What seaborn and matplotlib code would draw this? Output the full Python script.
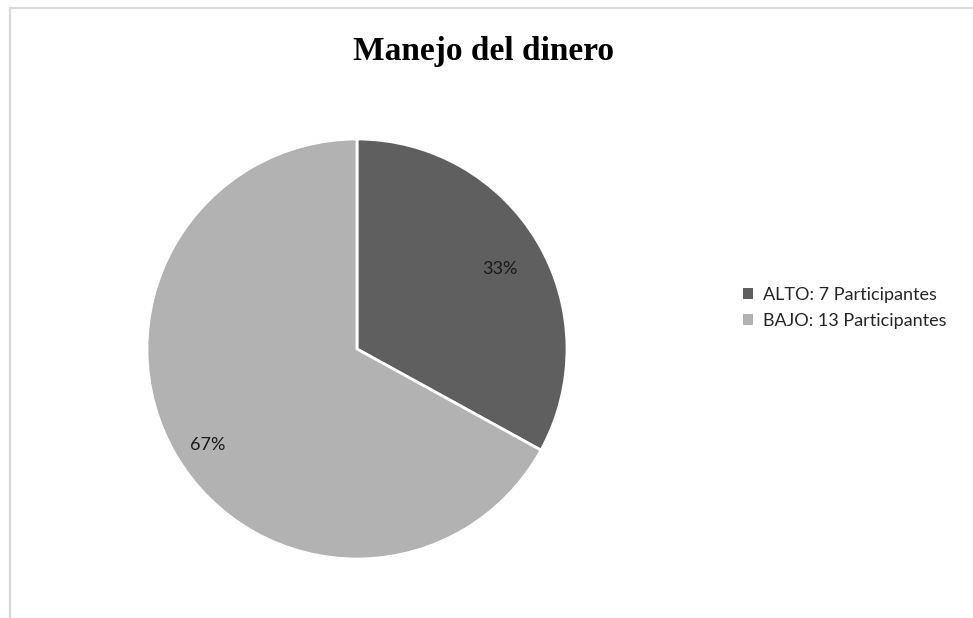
import matplotlib
matplotlib.use("Agg")
import matplotlib.pyplot as plt
from matplotlib.patches import Rectangle, Patch
import numpy as np
import seaborn as sns

# data (slice shares as printed on the chart)
categorias = ["ALTO", "BAJO"]
participantes = [7, 13]
porcentajes = [33, 67]
colores = ["#5f5f5f", "#b2b2b2"]
titulo = "Manejo del dinero"

sns.set_theme(style="white")
plt.rcParams['font.family'] = ['Lato', 'DejaVu Sans']

fig = plt.figure(figsize=(9.73, 6.18), dpi=100)

# light grey frame of the chart area (right/bottom edges run off the image)
fig.patches.append(Rectangle((10 / 973, -0.1), 1.2, (610 / 618) + 0.1,
                             transform=fig.transFigure, fill=False,
                             edgecolor="#d9d9d9", linewidth=1.6))

# pie axes: centre ~(357, 349), radius ~210 px
ax = fig.add_axes([147 / 973, 59 / 618, 420 / 973, 420 / 618])
wedges, texts, autotexts = ax.pie(
    porcentajes,
    colors=colores,
    startangle=90,
    counterclock=False,
    autopct=lambda p: f"{p:.0f}%",
    pctdistance=0.8,
    wedgeprops=dict(edgecolor="white", linewidth=2),
    textprops=dict(fontsize=13, color="#1a1a1a"),
)
# nudge the percentage labels the way the original places them
for w, t, r, d in zip(wedges, autotexts, [0.78, 0.845], [-1.5, 2.0]):
    ang = np.deg2rad((w.theta1 + w.theta2) / 2 + d)
    t.set_position((r * np.cos(ang), r * np.sin(ang)))
ax.set_xlim(-1, 1)
ax.set_ylim(-1, 1)
ax.set_aspect("equal")
ax.axis("off")

fig.text(0.497, 0.917, titulo, ha="center", va="center", color="black",
         fontsize=24, fontweight="bold", family="Liberation Serif")

etiquetas = [f"{c}: {n} Participantes" for c, n in zip(categorias, participantes)]
handles = [Patch(facecolor=col, edgecolor="none") for col in colores]
fig.legend(handles, etiquetas, loc="center left", bbox_to_anchor=(0.747, 0.502),
           frameon=False, fontsize=13, handlelength=0.55, handleheight=0.55,
           handletextpad=0.55, labelspacing=0.55, labelcolor="#262626")

fig.savefig("out.png", dpi=100)
